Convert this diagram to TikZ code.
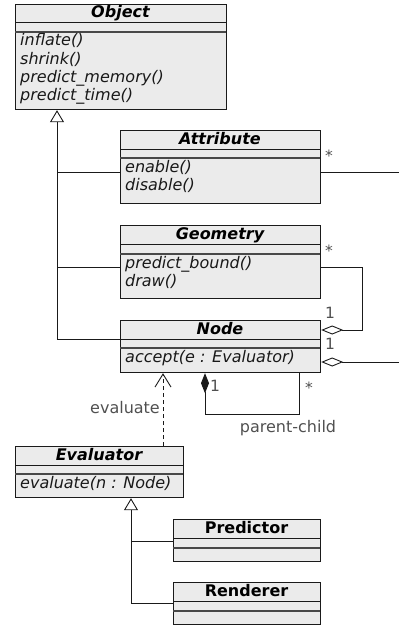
\documentclass[tikz,border=0pt]{standalone}
\usepackage{fontspec}
\setmainfont{DejaVu Sans}
\usetikzlibrary{arrows.meta}
\definecolor{classfill}{HTML}{EBEBEB}
\definecolor{lbl}{HTML}{505050}
\definecolor{edgec}{HTML}{1A1A1A}
\tikzset{
  classbox/.style={draw=edgec, fill=classfill, line width=1.2pt, inner sep=0pt, anchor=north west},
  titletxt/.style={font=\fontsize{16}{18}\selectfont\bfseries\itshape, anchor=base, inner sep=0pt, text=black},
  methtxt/.style={font=\fontsize{16}{18}\selectfont\itshape, anchor=base west, inner sep=0pt, text=black!90},
  sepline/.style={draw=edgec, line width=1pt},
  sepline2/.style={draw=edgec!80, line width=1.6pt},
  conn/.style={draw=edgec, line width=0.9pt},
  mult/.style={font=\fontsize{15.5}{18}\selectfont, text=lbl, inner sep=0pt},
  lbltxt/.style={font=\fontsize{16}{18}\selectfont, text=lbl, inner sep=0pt},
  gentip/.style={-{Triangle[open, length=12pt, width=14pt, line width=0.9pt]}},
  aggtip/.style={{Diamond[open, length=22pt, width=9pt, line width=0.9pt]}-},
  comptip/.style={{Diamond[length=20pt, width=8pt]}-},
  deptip/.style={-{Straight Barb[length=13pt, width=16pt, line width=0.9pt]}},
}
% name, x1, y1, x2, y2, title-bottom, attr-bottom, title, methods
\newcommand{\umlclass}[9]{%
  \node[classbox, minimum width={#4pt-#2pt}, minimum height={#5pt-#3pt}] (#1) at (#2,#3) {};
  \node[titletxt] (#1-title) at ({(#2+#4)/2},{#3+14}) {#8};
  \draw[sepline] (#2,#6) -- (#4,#6);
  \draw[sepline2] (#2,#7) -- (#4,#7);
  \foreach \m [count=\i] in {#9} {
    \node[methtxt] (#1-m\i) at ({#2+5},{#7+14+18*(\i-1)}) {\m};
  }
}
\begin{document}
\begin{tikzpicture}[x=1pt,y=-1pt]
\useasboundingbox (0,0) rectangle (399,626);

\umlclass{obj}{15}{4}{226}{109}{23}{32}{Object}{inflate(),shrink(),predict\_memory(),predict\_time()}
\umlclass{attr}{120}{130}{320}{203}{149}{158}{Attribute}{enable(),disable()}
\umlclass{geom}{120}{225}{320}{298}{244}{254}{Geometry}{predict\_bound(),draw()}
\umlclass{nodec}{120}{320}{320}{372}{339}{348}{Node}{accept(e : Evaluator)}
\umlclass{evalc}{15}{446}{183}{497}{465}{474}{Evaluator}{evaluate(n : Node)}
\umlclass{pred}{173}{519}{320}{561}{538}{548}{\upshape Predictor}{}
\umlclass{rend}{173}{582}{320}{624}{601}{611}{\upshape Renderer}{}

% generalization to Object
\coordinate (gA) at (57,172);
\coordinate (gG) at (57,267);
\coordinate (gN) at (57,339);
\draw[conn, gentip] (gN) -- (gN |- obj.south);
\draw[conn] (gA) -- (attr.west |- gA);
\draw[conn] (gG) -- (geom.west |- gG);
\draw[conn] (gN) -- (nodec.west |- gN);

% Attribute association
\coordinate (aEnd) at (399,172);
\draw[conn] (attr.east |- aEnd) -- (aEnd);
\node[mult] (mA) at (329,156) {*};

% Geometry aggregation
\coordinate (gR1) at (362,267);
\coordinate (gR2) at (362,330);
\draw[conn, aggtip] (nodec.east |- gR2) -- (gR2) -- (gR1) -- (geom.east |- gR1);
\node[mult] (mG) at (329,251) {*};
\node[mult] (mG1) at (330,313) {1};

% Node right aggregation
\coordinate (nEnd) at (399,362);
\draw[conn, aggtip] (nodec.east |- nEnd) -- (nEnd);
\node[mult] (mN1) at (330,344) {1};

% self composition
\coordinate (sL) at (205,414);
\coordinate (sR) at (299,414);
\draw[conn, comptip] (nodec.south -| sL) -- (sL) -- (sR) -- (nodec.south -| sR);
\node[mult] (mS1) at (215,386) {1};
\node[mult] (mS2) at (309,388) {*};
\node[lbltxt] (pc) at (288,428) {parent-child};

% dependency
\coordinate (dX) at (163,446);
\draw[conn, dashed, dash pattern=on 4pt off 3pt, deptip] (evalc.north -| dX) -- (nodec.south -| dX);
\node[lbltxt] (ev) at (125,408) {evaluate};

% generalization to Evaluator
\coordinate (eP) at (131,541);
\coordinate (eR) at (131,603);
\draw[conn, gentip] (eR) -- (eR |- evalc.south);
\draw[conn] (eP) -- (pred.west |- eP);
\draw[conn] (eR) -- (rend.west |- eR);
\end{tikzpicture}
\end{document}
